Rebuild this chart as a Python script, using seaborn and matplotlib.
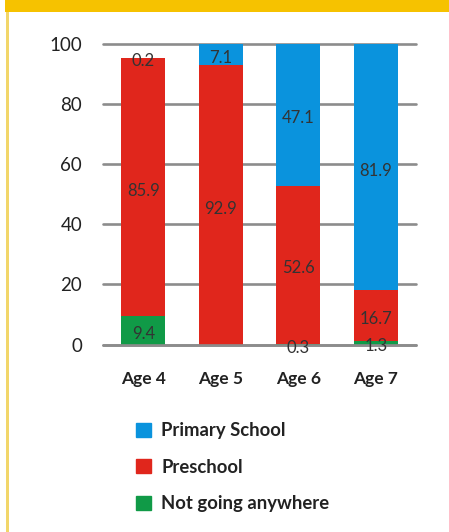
import matplotlib
matplotlib.use("Agg")
import matplotlib.pyplot as plt
import matplotlib.patches as mpatches
import seaborn as sns
import pandas as pd
import numpy as np

ages = ["Age 4", "Age 5", "Age 6", "Age 7"]
not_going = [9.4, 0.0, 0.3, 1.3]
preschool = [85.9, 92.9, 52.6, 16.7]
primary = [0.2, 7.1, 47.1, 81.9]
series_names = ["Primary School", "Preschool", "Not going anywhere"]
yticks = [0, 20, 40, 60, 80, 100]

colors = {"Primary School": "#0A93DD", "Preschool": "#E0261C", "Not going anywhere": "#109A47"}
label_color = "#333333"

sns.set_theme(style="white")
plt.rcParams["font.family"] = ["Lato", "DejaVu Sans"]

fig = plt.figure(figsize=(4.49, 5.32), dpi=100)
fig.patch.set_facecolor("white")
# frame decorations
fig.patches.append(mpatches.Rectangle((5/449, 1 - 12/532), 1, 12/532, transform=fig.transFigure,
                                      facecolor="#F6C200", edgecolor="none", zorder=0))
fig.patches.append(mpatches.Rectangle((6/449, 0), 2.5/449, 1 - 12/532, transform=fig.transFigure,
                                      facecolor="#F2D66A", edgecolor="none", zorder=0))

ax = fig.add_axes([103/449, 187.5/532, 313/449, 300.5/532])
ax.set_facecolor("white")

df = pd.DataFrame({"age": ages, "Not going anywhere": not_going,
                   "Preschool": preschool, "Primary School": primary})
bottoms = np.zeros(len(ages))
width = 0.57
zorders = {"Not going anywhere": 3, "Preschool": 2, "Primary School": 1}
for name in ["Not going anywhere", "Preschool", "Primary School"]:
    vals = df[name].to_numpy()
    sns.barplot(x=df["age"], y=vals + bottoms, color=colors[name], width=width,
                ax=ax, saturation=1, linewidth=0, edgecolor="none", zorder=zorders[name])
    for i, (v, b) in enumerate(zip(vals, bottoms)):
        if v > 0:
            ax.text(i, b + v / 2 - 1.2, f"{v:.1f}", ha="center", va="center",
                    fontsize=12, color=label_color, zorder=6)
    bottoms = bottoms + vals

ax.set_xlim(-0.52, 3.52)
ax.set_ylim(0, 100)
ax.set_yticks(yticks)
ax.set_yticklabels([str(t) for t in yticks], fontsize=13.5, color="#222222")
ax.tick_params(axis="y", length=0, pad=15)
ax.tick_params(axis="x", length=0, pad=19)
for lbl in ax.get_xticklabels():
    lbl.set_fontweight("bold")
    lbl.set_fontsize(12.5)
    lbl.set_color("#222222")
ax.set_xlabel("")
ax.set_ylabel("")
for s in ax.spines.values():
    s.set_visible(False)
ax.set_axisbelow(True)
ax.yaxis.grid(True, color="#8C8C8C", linewidth=1.9)
for gl in ax.get_ygridlines():
    gl.set_clip_on(False)
ax.axhline(0, color="#8C8C8C", linewidth=1.9, zorder=5, clip_on=False)

handles = [mpatches.Patch(color=colors[n], label=n) for n in series_names]
leg = fig.legend(handles=handles, loc="upper left", bbox_to_anchor=(129/449, 1 - 415/532),
                 frameon=False, prop={"weight": "bold", "size": 13.3}, handlelength=0.8,
                 handleheight=0.8, handletextpad=0.55, labelspacing=1.05,
                 borderaxespad=0, borderpad=0.4)
for t in leg.get_texts():
    t.set_color("#222222")

fig.savefig("out.png", dpi=100, facecolor="white")
